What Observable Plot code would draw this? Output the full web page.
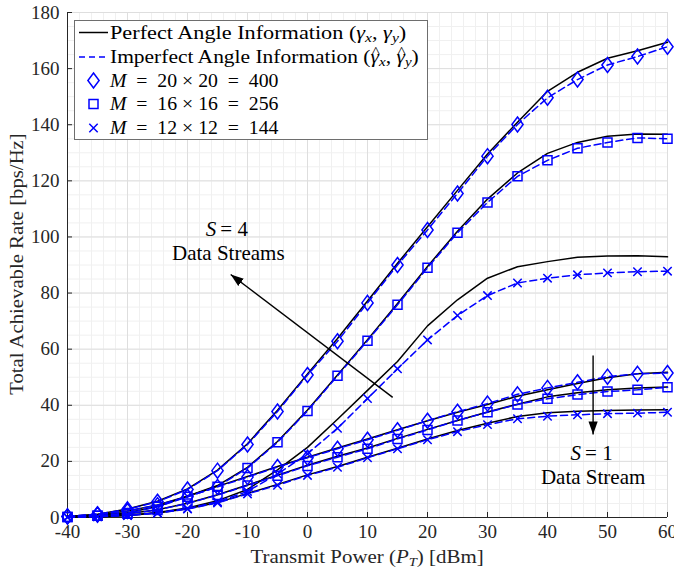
<!DOCTYPE html>
<html>
<head>
<meta charset="utf-8">
<script src="https://cdn.jsdelivr.net/npm/d3@7"></script>
<script src="https://cdn.jsdelivr.net/npm/@observablehq/plot@0.6"></script>
<style>
  body { margin: 0; background: white; }
  #wrap { position: relative; width: 674px; height: 576px; font-family: "Liberation Serif", serif; color: #000; }
  #legend { position: absolute; left: 74px; top: 20px; width: 354px; height: 120px; border: 1px solid #6e6e6e; background: white; box-sizing: border-box; }
  #legend .row { position: absolute; left: 35px; font-size: 19px; line-height: 20px; white-space: nowrap; transform-origin: 0 50%; }
  #legend svg { position: absolute; left: 0; top: 0; }
  .xl { position: absolute; left: 0; width: 734px; top: 546px; text-align: center; font-size: 19px; color: #262626; white-space: nowrap; }
  .xl span { display: inline-block; transform: scaleX(1.1); }
  .yl { position: absolute; left: 17px; top: 264px; font-size: 19px; color: #262626; white-space: nowrap; transform: translate(-50%, -50%) rotate(-90deg) scaleX(1.09); }
  sub { font-size: 0.7em; vertical-align: -0.25em; line-height: 0; }
  .hat { position: relative; display: inline-block; }
  .hat::after { content: "^"; position: absolute; left: 1px; top: -5px; font-style: normal; font-size: 0.8em; }
</style>
</head>
<body>
<div id="wrap"></div>
<script>
// ---------- data ----------
const power = [-40,-35,-30,-25,-20,-15,-10,-5,0,5,10,15,20,25,30,35,40,45,50,55,60];

// S = 4 data streams
const s4m400Perfect   = [0.4,1.2,3.0,5.8,10.2,16.9,26.3,38.2,51.2,63.8,77.2,90.6,103.6,116.6,129.6,140.9,151.9,158.7,163.7,166.4,169.4];
const s4m400Imperfect = [0.4,1.2,2.9,5.6,10.0,16.7,26.0,37.8,50.8,62.8,76.5,90.0,102.5,115.5,128.8,140.1,149.6,156.1,161.3,164.3,167.8];
const s4m256Perfect   = [0.2,0.7,1.7,3.9,7.6,11.4,17.9,27.1,38.3,50.8,63.4,76.3,89.5,102.0,113.5,122.8,129.8,133.7,135.9,136.7,136.6];
const s4m256Imperfect = [0.2,0.6,1.6,3.8,7.4,11.0,17.6,26.8,38.0,50.5,63.0,75.8,89.0,101.5,112.3,121.6,127.3,131.6,133.7,135.3,135.0];
const s4m144Perfect   = [0.1,0.3,0.8,1.8,3.4,6.0,10.0,17.0,25.0,35.0,45.3,55.6,68.3,77.6,85.3,89.4,91.2,92.8,93.2,93.3,92.9];
const s4m144Imperfect = [0.1,0.3,0.7,1.7,3.2,5.6,9.3,15.5,22.7,31.8,42.4,53.0,63.3,72.0,79.1,83.6,85.3,86.5,87.2,87.6,87.8];
// S = 1 data stream
const s1m400Perfect   = [0.4,1.0,2.3,4.5,7.6,11.1,14.6,18.2,21.5,24.8,28.0,31.3,34.5,37.5,40.3,43.2,45.5,47.8,49.8,51.2,51.8];
const s1m400Imperfect = [0.4,1.0,2.3,4.4,7.4,10.9,14.4,18.0,21.3,24.5,27.7,31.1,34.5,37.7,40.6,43.9,46.2,48.2,50.2,51.2,51.5];
const s1m256Perfect   = [0.2,0.6,1.3,2.8,5.1,8.1,11.6,15.1,18.6,21.8,24.8,28.2,31.4,34.6,37.6,40.4,43.0,44.5,45.5,46.2,46.5];
const s1m256Imperfect = [0.2,0.6,1.3,2.7,5.0,8.0,11.4,14.9,18.4,21.5,24.5,28.0,31.2,34.6,37.5,40.3,42.3,43.8,44.9,45.5,46.4];
const s1m144Perfect   = [0.1,0.3,0.7,1.6,3.1,5.3,8.6,11.8,15.2,18.2,21.5,24.7,28.0,31.0,33.6,36.0,37.3,37.9,38.1,38.3,38.4];
const s1m144Imperfect = [0.1,0.3,0.7,1.5,3.0,5.2,8.4,11.5,15.0,17.9,21.3,24.5,27.7,30.6,33.1,35.2,36.1,36.6,37.0,37.2,37.5];

const xTicks = [-40,-30,-20,-10,0,10,20,30,40,50,60];
const yTicks = [0,20,40,60,80,100,120,140,160,180];
const xMinor = d3.range(-40, 60.001, 2);
const yMinor = d3.range(0, 180.001, 5);

const legendLabels = [
  'Perfect Angle Information (<i>γ</i><sub><i>x</i></sub>, <i>γ</i><sub><i>y</i></sub>)',
  'Imperfect Angle Information (<i class="hat">γ</i><sub><i>x</i></sub>, <i class="hat">γ</i><sub><i>y</i></sub>)',
  '<i>M</i> &nbsp;=&nbsp; 20 × 20 &nbsp;=&nbsp; 400',
  '<i>M</i> &nbsp;=&nbsp; 16 × 16 &nbsp;=&nbsp; 256',
  '<i>M</i> &nbsp;=&nbsp; 12 × 12 &nbsp;=&nbsp; 144'
];
const legendStretch = [1.17, 1.13, 1.04, 1.04, 1.04];

// annotations (data coordinates)
const arrowS4 = [{x1: 14.2, y1: 42.8, x2: -12.8, y2: 86.6}];
const arrowS1 = [{x1: 47.6, y1: 57.7, x2: 47.6, y2: 29.6}];
const noteS4 = [{x: -13.2, y1: 102.6, y2: 94.1, num: "= 4", text: "Data Streams"}];
const noteS1 = [{x: 47.6, y1: 22.9, y2: 14.4, num: "= 1", text: "Data Stream"}];

// ---------- build tables ----------
const groups = [
  {key: "s4m400", m: "400", perfect: s4m400Perfect, imperfect: s4m400Imperfect},
  {key: "s4m256", m: "256", perfect: s4m256Perfect, imperfect: s4m256Imperfect},
  {key: "s4m144", m: "144", perfect: s4m144Perfect, imperfect: s4m144Imperfect},
  {key: "s1m400", m: "400", perfect: s1m400Perfect, imperfect: s1m400Imperfect},
  {key: "s1m256", m: "256", perfect: s1m256Perfect, imperfect: s1m256Imperfect},
  {key: "s1m144", m: "144", perfect: s1m144Perfect, imperfect: s1m144Imperfect}
];
const perfectRows = [], imperfectRows = [];
for (const g of groups) {
  power.forEach((p, i) => {
    perfectRows.push({series: g.key, m: g.m, x: p, y: g.perfect[i]});
    imperfectRows.push({series: g.key, m: g.m, x: p, y: g.imperfect[i]});
  });
}

// MATLAB-like marker shapes
const diamond = {draw(ctx) { ctx.moveTo(0, -7.5); ctx.lineTo(5.6, 0); ctx.lineTo(0, 7.5); ctx.lineTo(-5.6, 0); ctx.closePath(); }};
const square = {draw(ctx) { ctx.rect(-4.5, -4.5, 9, 9); }};
const times = {draw(ctx) { ctx.moveTo(-4.2, -4.2); ctx.lineTo(4.2, 4.2); ctx.moveTo(4.2, -4.2); ctx.lineTo(-4.2, 4.2); }};
const symbolFor = {"400": diamond, "256": square, "144": times};

function filledArrow(color) {
  const m = d3.create("svg:marker")
    .attr("viewBox", "-13 -5 13 10")
    .attr("markerWidth", 13).attr("markerHeight", 10)
    .attr("markerUnits", "userSpaceOnUse")
    .attr("orient", "auto").attr("refX", 0).attr("refY", 0)
    .attr("fill", color).attr("stroke", "none");
  m.append("path").attr("d", "M-13,-4.6L0,0L-13,4.6Z");
  return m.node();
}

const blue = "#0000ff";
const axisColor = "#262626";

const chart = Plot.plot({
  width: 674,
  height: 576,
  marginLeft: 67,
  marginRight: 7,
  marginTop: 12,
  marginBottom: 59,
  x: {domain: [-40, 60], label: null},
  y: {domain: [0, 180], label: null},
  style: {fontFamily: "Liberation Serif, serif", fontSize: "19px", background: "white", color: axisColor, overflow: "visible"},
  marks: [
    Plot.gridX(xMinor, {stroke: "#f0f0f0", strokeOpacity: 1, strokeWidth: 1}),
    Plot.gridY(yMinor, {stroke: "#f0f0f0", strokeOpacity: 1, strokeWidth: 1}),
    Plot.gridX(xTicks, {stroke: "#dedede", strokeOpacity: 1, strokeWidth: 1}),
    Plot.gridY(yTicks, {stroke: "#dedede", strokeOpacity: 1, strokeWidth: 1}),
    Plot.ruleY([0], {stroke: axisColor, strokeWidth: 1}),
    Plot.ruleX([-40], {stroke: axisColor, strokeWidth: 1}),
    Plot.axisX({ticks: xTicks, tickSize: -5, tickPadding: 12, tickFormat: d => String(d), stroke: axisColor, label: null}),
    Plot.axisY({ticks: yTicks, tickSize: -5, tickPadding: 13, tickFormat: d => String(d), stroke: axisColor, label: null}),
    Plot.line(perfectRows, {x: "x", y: "y", z: "series", stroke: "black", strokeWidth: 1.5}),
    Plot.line(imperfectRows, {x: "x", y: "y", z: "series", stroke: blue, strokeWidth: 1.5, strokeDasharray: "7,4"}),
    ...["400", "256", "144"].map(m =>
      Plot.dot(imperfectRows.filter(d => d.m === m), {x: "x", y: "y", symbol: symbolFor[m], r: 5, stroke: blue, fill: "none", strokeWidth: 1.5})
    ),
    Plot.link(arrowS4, {x1: "x1", y1: "y1", x2: "x2", y2: "y2", stroke: "black", strokeWidth: 1.4, markerEnd: filledArrow}),
    Plot.link(arrowS1, {x1: "x1", y1: "y1", x2: "x2", y2: "y2", stroke: "black", strokeWidth: 1.4, markerEnd: filledArrow}),
    ...[noteS4, noteS1].flatMap(n => [
      Plot.text(n, {x: "x", y: "y1", text: () => "S", fontStyle: "italic", textAnchor: "end", dx: -12, fontSize: 21, fill: "black"}),
      Plot.text(n, {x: "x", y: "y1", text: "num", textAnchor: "start", dx: -8, fontSize: 21, fill: "black"}),
      Plot.text(n, {x: "x", y: "y2", text: "text", fontSize: 21, fill: "black"})
    ])
  ]
});

const wrap = document.getElementById("wrap");
wrap.appendChild(chart);

// legend
const legend = document.createElement("div");
legend.id = "legend";
const rowY = [11.5, 36, 59.5, 83, 107];
let svgInner = `<svg width="352" height="118">`;
svgInner += `<line x1="4" x2="33" y1="${rowY[0]}" y2="${rowY[0]}" stroke="black" stroke-width="1.5"/>`;
svgInner += `<line x1="4" x2="33" y1="${rowY[1]}" y2="${rowY[1]}" stroke="${blue}" stroke-width="1.5" stroke-dasharray="6,4"/>`;
svgInner += `<path transform="translate(18.5,${rowY[2]})" d="M0,-7.5L5.6,0L0,7.5L-5.6,0Z" fill="none" stroke="${blue}" stroke-width="1.5"/>`;
svgInner += `<rect x="14" y="${rowY[3]-4.5}" width="9" height="9" fill="none" stroke="${blue}" stroke-width="1.5"/>`;
svgInner += `<path transform="translate(18.5,${rowY[4]})" d="M-4.2,-4.2L4.2,4.2M4.2,-4.2L-4.2,4.2" fill="none" stroke="${blue}" stroke-width="1.5"/>`;
svgInner += `</svg>`;
legend.innerHTML = svgInner + legendLabels.map((t, i) =>
  `<div class="row" style="top:${rowY[i] - 10}px;transform:scaleX(${legendStretch[i]})">${t}</div>`).join("");
wrap.appendChild(legend);

const xl = document.createElement("div");
xl.className = "xl";
xl.innerHTML = '<span>Transmit Power (<i>P</i><sub><i>T</i></sub>) [dBm]</span>';
wrap.appendChild(xl);

const yl = document.createElement("div");
yl.className = "yl";
yl.textContent = "Total Achievable Rate [bps/Hz]";
wrap.appendChild(yl);
</script>
</body>
</html>
